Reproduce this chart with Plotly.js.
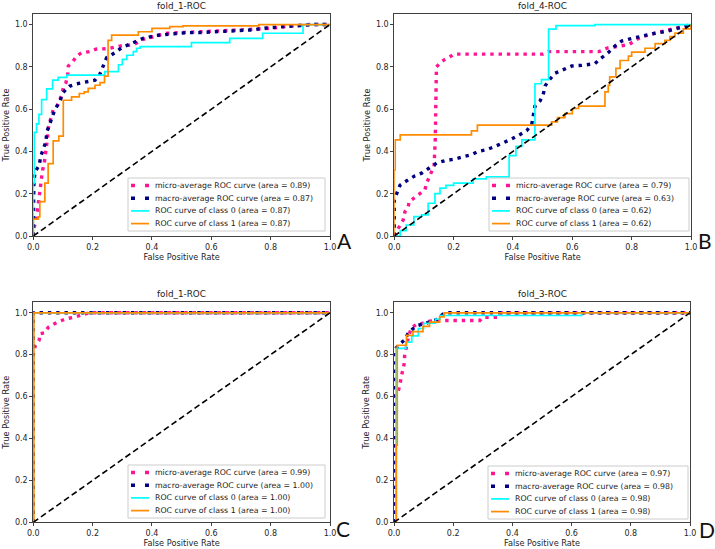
<!DOCTYPE html>
<html><head><meta charset="utf-8">
<script src="https://cdn.plot.ly/plotly-3.0.1.min.js"></script>
<style>html,body{margin:0;padding:0;background:#fff}#chart{width:715px;height:549px}</style>
</head><body><div id="chart"></div>
<script>
// ---------------- DATA ----------------
const panelTitles = ['fold_1-ROC', 'fold_4-ROC', 'fold_1-ROC', 'fold_3-ROC'];
const panelLetters = ['A', 'B', 'C', 'D'];
const aucMicro = ['0.89', '0.79', '0.99', '0.97'];
const aucMacro = ['0.87', '0.63', '1.00', '0.98'];
const aucClass0 = ['0.87', '0.62', '1.00', '0.98'];
const aucClass1 = ['0.87', '0.62', '1.00', '0.98'];
const tickVals = [0, 0.2, 0.4, 0.6, 0.8, 1.0];
const tickText = ['0.0', '0.2', '0.4', '0.6', '0.8', '1.0'];
const xTitle = 'False Positive Rate';
const yTitle = 'True Positive Rate';
const chanceFpr = [0, 1];
const chanceTpr = [0, 1];

// Panel A
const A_micro_fpr = [0, 0, 0.005, 0.011, 0.013, 0.017, 0.019, 0.022, 0.028, 0.031, 0.037, 0.04, 0.045, 0.048, 0.05, 0.054, 0.062, 0.067, 0.081, 0.095, 0.101, 0.11, 0.116, 0.118, 0.132, 0.148, 0.163, 0.189, 0.211, 0.25, 0.3, 0.337, 0.37, 0.416, 0.45, 0.494, 0.56, 0.618, 0.674, 0.74, 0.81, 0.876, 0.93, 1.0];
const A_micro_tpr = [0, 0.03, 0.05, 0.073, 0.11, 0.155, 0.195, 0.234, 0.27, 0.31, 0.345, 0.377, 0.416, 0.464, 0.503, 0.535, 0.566, 0.598, 0.617, 0.665, 0.7, 0.725, 0.764, 0.804, 0.823, 0.853, 0.867, 0.872, 0.884, 0.886, 0.9, 0.904, 0.93, 0.946, 0.959, 0.962, 0.965, 0.97, 0.973, 0.978, 0.984, 0.994, 1.0, 1.0];
const A_macro_fpr = [0, 0, 0.002, 0.006, 0.02, 0.025, 0.034, 0.043, 0.045, 0.056, 0.073, 0.09, 0.1, 0.11, 0.123, 0.146, 0.174, 0.208, 0.224, 0.236, 0.247, 0.275, 0.297, 0.325, 0.348, 0.37, 0.416, 0.46, 0.517, 0.56, 0.618, 0.674, 0.74, 0.787, 0.843, 0.9, 0.944, 1.0];
const A_macro_tpr = [0, 0.147, 0.253, 0.305, 0.334, 0.377, 0.416, 0.448, 0.49, 0.53, 0.598, 0.638, 0.677, 0.693, 0.709, 0.72, 0.728, 0.737, 0.764, 0.81, 0.843, 0.867, 0.89, 0.907, 0.922, 0.935, 0.949, 0.954, 0.962, 0.962, 0.967, 0.973, 0.975, 0.984, 0.99, 0.997, 1.0, 1.0];
const A_c0_fpr = [0, 0, 0.003, 0.003, 0.011, 0.011, 0.019, 0.019, 0.028, 0.028, 0.045, 0.045, 0.065, 0.065, 0.084, 0.084, 0.113, 0.113, 0.241, 0.241, 0.287, 0.287, 0.3, 0.3, 0.315, 0.315, 0.337, 0.337, 0.348, 0.348, 0.36, 0.36, 0.533, 0.533, 0.662, 0.662, 0.773, 0.773, 0.909, 0.909, 1.0];
const A_c0_tpr = [0, 0.25, 0.25, 0.49, 0.49, 0.53, 0.53, 0.575, 0.575, 0.645, 0.645, 0.696, 0.696, 0.737, 0.737, 0.75, 0.75, 0.761, 0.761, 0.777, 0.777, 0.81, 0.81, 0.835, 0.835, 0.855, 0.855, 0.872, 0.872, 0.888, 0.888, 0.896, 0.896, 0.915, 0.915, 0.935, 0.935, 0.959, 0.959, 1.0, 1.0];
const A_c1_fpr = [0, 0, 0.017, 0.017, 0.022, 0.022, 0.039, 0.039, 0.05, 0.05, 0.067, 0.067, 0.086, 0.086, 0.101, 0.101, 0.129, 0.129, 0.155, 0.155, 0.172, 0.172, 0.185, 0.185, 0.208, 0.208, 0.225, 0.225, 0.24, 0.24, 0.252, 0.252, 0.264, 0.264, 0.354, 0.354, 0.4, 0.4, 0.46, 0.46, 0.505, 0.505, 0.76, 0.76, 1.0];
const A_c1_tpr = [0, 0.08, 0.08, 0.09, 0.09, 0.163, 0.163, 0.25, 0.25, 0.342, 0.342, 0.45, 0.45, 0.472, 0.472, 0.642, 0.642, 0.658, 0.658, 0.674, 0.674, 0.682, 0.682, 0.698, 0.698, 0.713, 0.713, 0.725, 0.725, 0.756, 0.756, 0.925, 0.925, 0.95, 0.95, 0.966, 0.966, 0.982, 0.982, 0.99, 0.99, 0.994, 0.994, 1.0, 1.0];

// Panel B
const B_micro_fpr = [0, 0.005, 0.017, 0.03, 0.036, 0.047, 0.05, 0.064, 0.086, 0.103, 0.109, 0.118, 0.126, 0.134, 0.138, 0.14, 0.142, 0.155, 0.17, 0.19, 0.2, 0.5, 0.52, 0.69, 0.72, 0.79, 0.83, 0.88, 0.93, 1.0];
const B_micro_tpr = [0, 0.02, 0.044, 0.076, 0.115, 0.139, 0.163, 0.179, 0.2, 0.218, 0.25, 0.28, 0.305, 0.33, 0.45, 0.6, 0.8, 0.82, 0.835, 0.85, 0.86, 0.86, 0.872, 0.872, 0.89, 0.905, 0.94, 0.96, 0.975, 1.0];
const B_macro_fpr = [0, 0, 0.008, 0.019, 0.047, 0.07, 0.092, 0.109, 0.124, 0.143, 0.17, 0.204, 0.238, 0.26, 0.283, 0.311, 0.34, 0.367, 0.396, 0.424, 0.446, 0.463, 0.469, 0.474, 0.491, 0.502, 0.508, 0.519, 0.542, 0.57, 0.598, 0.631, 0.676, 0.699, 0.721, 0.744, 0.766, 0.8, 0.834, 0.879, 0.924, 0.969, 1.0];
const B_macro_tpr = [0, 0.17, 0.2, 0.24, 0.266, 0.285, 0.297, 0.313, 0.33, 0.345, 0.356, 0.364, 0.377, 0.384, 0.4, 0.408, 0.424, 0.44, 0.459, 0.48, 0.498, 0.527, 0.582, 0.614, 0.638, 0.67, 0.709, 0.733, 0.77, 0.788, 0.804, 0.807, 0.815, 0.843, 0.867, 0.899, 0.922, 0.934, 0.946, 0.959, 0.97, 0.986, 1.0];
const B_c0_fpr = [0, 0.02, 0.02, 0.04, 0.04, 0.066, 0.066, 0.092, 0.092, 0.114, 0.114, 0.137, 0.137, 0.154, 0.154, 0.174, 0.174, 0.2, 0.2, 0.266, 0.266, 0.31, 0.31, 0.387, 0.387, 0.41, 0.41, 0.43, 0.43, 0.474, 0.474, 0.496, 0.496, 0.52, 0.52, 0.545, 0.545, 0.676, 0.676, 1.0];
const B_c0_tpr = [0, 0, 0.025, 0.025, 0.052, 0.052, 0.092, 0.092, 0.1, 0.1, 0.155, 0.155, 0.2, 0.2, 0.226, 0.226, 0.239, 0.239, 0.25, 0.25, 0.27, 0.27, 0.28, 0.28, 0.38, 0.38, 0.424, 0.424, 0.455, 0.455, 0.72, 0.72, 0.74, 0.74, 0.978, 0.978, 0.995, 0.995, 1.0, 1.0];
const B_c1_fpr = [0, 0, 0.003, 0.003, 0.02, 0.02, 0.26, 0.26, 0.28, 0.28, 0.53, 0.53, 0.55, 0.55, 0.575, 0.575, 0.6, 0.6, 0.621, 0.621, 0.71, 0.71, 0.721, 0.721, 0.726, 0.726, 0.747, 0.747, 0.761, 0.761, 0.789, 0.789, 0.8, 0.8, 0.845, 0.845, 0.879, 0.879, 0.912, 0.912, 0.929, 0.929, 0.946, 0.946, 0.974, 0.974, 1.0, 1.0];
const B_c1_tpr = [0, 0.313, 0.313, 0.455, 0.455, 0.478, 0.478, 0.497, 0.497, 0.524, 0.524, 0.54, 0.54, 0.56, 0.56, 0.579, 0.579, 0.603, 0.603, 0.614, 0.614, 0.682, 0.682, 0.713, 0.713, 0.753, 0.753, 0.793, 0.793, 0.83, 0.83, 0.851, 0.851, 0.87, 0.87, 0.888, 0.888, 0.91, 0.91, 0.925, 0.925, 0.943, 0.943, 0.96, 0.96, 0.98, 0.98, 1.0];

// Panel C
const C_micro_fpr = [0, 0, 0.006, 0.02, 0.022, 0.039, 0.05, 0.067, 0.09, 0.107, 0.14, 0.163, 0.19, 1.0];
const C_micro_tpr = [0, 0.8, 0.84, 0.87, 0.9, 0.905, 0.93, 0.945, 0.96, 0.97, 0.98, 0.99, 1.0, 1.0];
const C_macro_fpr = [0, 0, 1.0];
const C_macro_tpr = [0, 1.0, 1.0];
const C_c0_fpr = [0, 0, 1.0];
const C_c0_tpr = [0, 1.0, 1.0];
const C_c1_fpr = [0, 0.002, 0.002, 1.0];
const C_c1_tpr = [0, 0, 1.0, 1.0];

// Panel D
const D_micro_fpr = [0, 0.002, 0.013, 0.019, 0.025, 0.03, 0.034, 0.036, 0.042, 0.05, 0.059, 0.076, 0.098, 0.12, 0.17, 0.29, 0.3, 0.35, 0.36, 1.0];
const D_micro_tpr = [0, 0.6, 0.62, 0.65, 0.697, 0.725, 0.754, 0.797, 0.84, 0.892, 0.929, 0.944, 0.951, 0.96, 0.963, 0.963, 0.978, 0.978, 1.0, 1.0];
const D_macro_fpr = [0, 0, 0.02, 0.036, 0.047, 0.064, 0.081, 0.104, 0.126, 0.143, 0.16, 0.171, 1.0];
const D_macro_tpr = [0, 0.82, 0.852, 0.87, 0.9, 0.924, 0.94, 0.948, 0.96, 0.967, 0.987, 1.0, 1.0];
const D_c0_fpr = [0, 0.007, 0.007, 0.04, 0.04, 0.06, 0.06, 0.082, 0.082, 0.1, 0.1, 0.14, 0.14, 0.155, 0.155, 0.634, 0.634, 1.0];
const D_c0_tpr = [0, 0, 0.83, 0.83, 0.86, 0.86, 0.89, 0.89, 0.925, 0.925, 0.95, 0.95, 0.97, 0.97, 0.987, 0.987, 1.0, 1.0];
const D_c1_fpr = [0, 0.008, 0.008, 0.011, 0.011, 0.042, 0.042, 0.064, 0.064, 0.098, 0.098, 0.12, 0.12, 0.154, 0.154, 0.169, 0.169, 1.0];
const D_c1_tpr = [0, 0, 0.368, 0.368, 0.845, 0.845, 0.892, 0.892, 0.91, 0.91, 0.935, 0.935, 0.955, 0.955, 0.98, 0.98, 1.0, 1.0];

// ---------------- BUILD ----------------
const W = 715, H = 549;
const PX = x => x / W;
const PY = y => 1 - y / H;

const series = [
  {micro: [A_micro_fpr, A_micro_tpr], macro: [A_macro_fpr, A_macro_tpr], c0: [A_c0_fpr, A_c0_tpr], c1: [A_c1_fpr, A_c1_tpr]},
  {micro: [B_micro_fpr, B_micro_tpr], macro: [B_macro_fpr, B_macro_tpr], c0: [B_c0_fpr, B_c0_tpr], c1: [B_c1_fpr, B_c1_tpr]},
  {micro: [C_micro_fpr, C_micro_tpr], macro: [C_macro_fpr, C_macro_tpr], c0: [C_c0_fpr, C_c0_tpr], c1: [C_c1_fpr, C_c1_tpr]},
  {micro: [D_micro_fpr, D_micro_tpr], macro: [D_macro_fpr, D_macro_tpr], c0: [D_c0_fpr, D_c0_tpr], c1: [D_c1_fpr, D_c1_tpr]}
];

// plot-area boxes in pixels (layout only)
const boxes = [
  {l: 33.3, r: 330, t: 14, b: 236, leg: {l: 128, r: 325, t: 178}, letter: [344, 241]},
  {l: 394.3, r: 691, t: 14, b: 236, leg: {l: 489, r: 689, t: 178}, letter: [705, 241]},
  {l: 33.3, r: 330, t: 302.3, b: 522.3, leg: {l: 128, r: 325, t: 465}, letter: [343, 528]},
  {l: 394, r: 690, t: 302.3, b: 522.3, leg: {l: 488, r: 688, t: 466}, letter: [707, 529]}
];

const styles = {
  micro: {color: '#ff1493', width: 3.4, dash: '3.4px,4.9px'},
  macro: {color: '#000080', width: 3.4, dash: '3.4px,4.9px'},
  c0: {color: '#00ffff', width: 1.7, dash: 'solid'},
  c1: {color: '#ff8c00', width: 1.7, dash: 'solid'},
  chance: {color: '#000000', width: 1.6, dash: '6px,3.4px'}
};
const legendSampleDash = {micro: '4px,10px', macro: '4px,10px', c0: 'solid', c1: 'solid'};

const FONT = 'DejaVu Sans, Liberation Sans, sans-serif';
const traces = [];
const layout = {
  width: W, height: H, autosize: false,
  margin: {l: 0, r: 0, t: 0, b: 0, pad: 0},
  paper_bgcolor: '#ffffff', plot_bgcolor: '#ffffff',
  showlegend: false,
  font: {family: FONT, size: 8, color: '#262626'},
  annotations: [], shapes: []
};

for (let i = 0; i < 4; i++) {
  const s = i === 0 ? '' : String(i + 1);
  const bx = boxes[i];
  const keys = ['micro', 'macro', 'c0', 'c1'];
  const labels = [
    'micro-average ROC curve (area = ' + aucMicro[i] + ')',
    'macro-average ROC curve (area = ' + aucMacro[i] + ')',
    'ROC curve of class 0 (area = ' + aucClass0[i] + ')',
    'ROC curve of class 1 (area = ' + aucClass1[i] + ')'
  ];
  keys.forEach((k, j) => {
    traces.push({
      type: 'scatter', mode: 'lines', x: series[i][k][0], y: series[i][k][1],
      xaxis: 'x' + s, yaxis: 'y' + s, name: labels[j],
      line: {color: styles[k].color, width: styles[k].width, dash: styles[k].dash, shape: 'linear'},
      hoverinfo: 'skip'
    });
  });
  traces.push({
    type: 'scatter', mode: 'lines', x: chanceFpr, y: chanceTpr,
    xaxis: 'x' + s, yaxis: 'y' + s, name: 'chance',
    line: {color: styles.chance.color, width: styles.chance.width, dash: styles.chance.dash},
    hoverinfo: 'skip'
  });

  const axCommon = {
    showline: true, mirror: true, linecolor: '#404040', linewidth: 1,
    ticks: 'outside', ticklen: 3, tickwidth: 1, tickcolor: '#404040',
    tickvals: tickVals, ticktext: tickText,
    tickfont: {family: FONT, size: 8, color: '#262626'},
    showgrid: false, zeroline: false, fixedrange: true, automargin: false
  };
  layout['xaxis' + s] = Object.assign({}, axCommon, {
    domain: [PX(bx.l), PX(bx.r)], range: [0, 1], anchor: 'y' + s,
    title: {text: xTitle, font: {family: FONT, size: 8.2, color: '#262626'}, standoff: 3}
  });
  layout['yaxis' + s] = Object.assign({}, axCommon, {
    domain: [PY(bx.b), PY(bx.t)], range: [0, 1.05], anchor: 'x' + s,
    title: {text: yTitle, font: {family: FONT, size: 8.2, color: '#262626'}, standoff: 4}
  });

  // subplot title
  layout.annotations.push({
    xref: 'paper', yref: 'paper', x: PX((bx.l + bx.r) / 2), y: PY(bx.t - 8.5),
    xanchor: 'center', yanchor: 'middle', showarrow: false,
    text: panelTitles[i], font: {family: FONT, size: 8.8, color: '#1a1a1a'}
  });
  // panel letter
  layout.annotations.push({
    xref: 'paper', yref: 'paper', x: PX(bx.letter[0]), y: PY(bx.letter[1]),
    xanchor: 'center', yanchor: 'middle', showarrow: false,
    text: panelLetters[i], font: {family: 'Lato, Open Sans, sans-serif', size: 21, color: '#111111'}
  });

  // legend box (drawn manually for matplotlib-like compact spacing)
  const lg = bx.leg;
  const lgH = 53;
  layout.shapes.push({
    type: 'rect', xref: 'paper', yref: 'paper', layer: 'above',
    x0: PX(lg.l), x1: PX(lg.r), y0: PY(lg.t + lgH), y1: PY(lg.t),
    line: {color: '#cccccc', width: 1}, fillcolor: 'rgba(255,255,255,0.8)'
  });
  keys.forEach((k, j) => {
    const yc = lg.t + 7.5 + j * 12.7;
    layout.shapes.push({
      type: 'line', xref: 'paper', yref: 'paper', layer: 'above',
      x0: PX(lg.l + 3), x1: PX(lg.l + 21), y0: PY(yc), y1: PY(yc),
      line: {color: styles[k].color, width: (k === 'micro' || k === 'macro') ? 3.5 : 1.7, dash: legendSampleDash[k]}
    });
    layout.annotations.push({
      xref: 'paper', yref: 'paper', x: PX(lg.l + 25), y: PY(yc),
      xanchor: 'left', yanchor: 'middle', showarrow: false,
      text: labels[j], font: {family: FONT, size: 7.8, color: '#1a1a1a'}
    });
  });
}

Plotly.newPlot('chart', traces, layout, {displayModeBar: false, staticPlot: true});
</script></body></html>
